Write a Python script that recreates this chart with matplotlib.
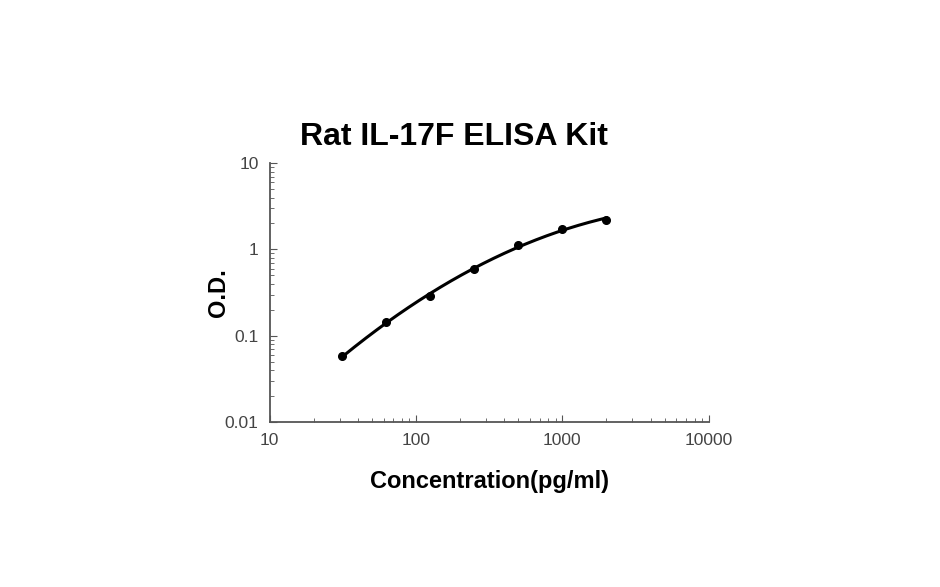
import matplotlib
matplotlib.use("Agg")
import matplotlib.pyplot as plt
import numpy as np
from matplotlib.ticker import LogLocator, FixedLocator, NullFormatter

# standard curve readings
conc = [31.25, 62.5, 125, 250, 500, 1000, 2000]
od = [0.058, 0.143, 0.288, 0.60, 1.12, 1.75, 2.22]
x_ticks = [10, 100, 1000, 10000]
x_labels = ["10", "100", "1000", "10000"]
y_ticks = [0.01, 0.1, 1, 10]
y_labels = ["0.01", "0.1", "1", "10"]

plt.rcParams["font.family"] = ["Liberation Sans", "DejaVu Sans"]

fig = plt.figure(figsize=(9.4, 5.87), dpi=100)
ax = fig.add_axes([0.287, 0.281, 0.467, 0.441])

# fitted curve: quadratic in log-log space
lx, ly = np.log10(conc), np.log10(od)
coef = np.polyfit(lx, ly, 2)
xs = np.logspace(lx[0], lx[-1], 200)
ax.plot(xs, 10 ** np.polyval(coef, np.log10(xs)), color="black", lw=2.2)
ax.plot(conc, od, "o", color="black", ms=5.5)

ax.set_xscale("log")
ax.set_yscale("log")
ax.set_xlim(10, 10000)
ax.set_ylim(0.01, 10)
ax.xaxis.set_major_locator(FixedLocator(x_ticks))
ax.set_xticklabels(x_labels)
ax.yaxis.set_major_locator(FixedLocator(y_ticks))
ax.set_yticklabels(y_labels)
ax.xaxis.set_minor_locator(LogLocator(base=10, subs=np.arange(2, 10)))
ax.yaxis.set_minor_locator(LogLocator(base=10, subs=np.arange(2, 10)))
ax.xaxis.set_minor_formatter(NullFormatter())
ax.yaxis.set_minor_formatter(NullFormatter())

for s in ["top", "right"]:
    ax.spines[s].set_visible(False)
for s in ["left", "bottom"]:
    ax.spines[s].set_color("#555555")
    ax.spines[s].set_linewidth(1.3)
ax.tick_params(which="major", direction="in", length=5, color="#555555",
               labelsize=12.5, labelcolor="#444444", pad=8)
ax.tick_params(which="minor", direction="in", length=3, color="#555555")

ax.set_title("Rat IL-17F ELISA Kit", fontsize=23, fontweight="bold", pad=13, x=0.42)
ax.set_xlabel("Concentration(pg/ml)", fontsize=17, fontweight="bold", labelpad=16)
ax.set_ylabel("O.D.", fontsize=17, fontweight="bold", labelpad=-4)

fig.savefig("out.png", dpi=100)
